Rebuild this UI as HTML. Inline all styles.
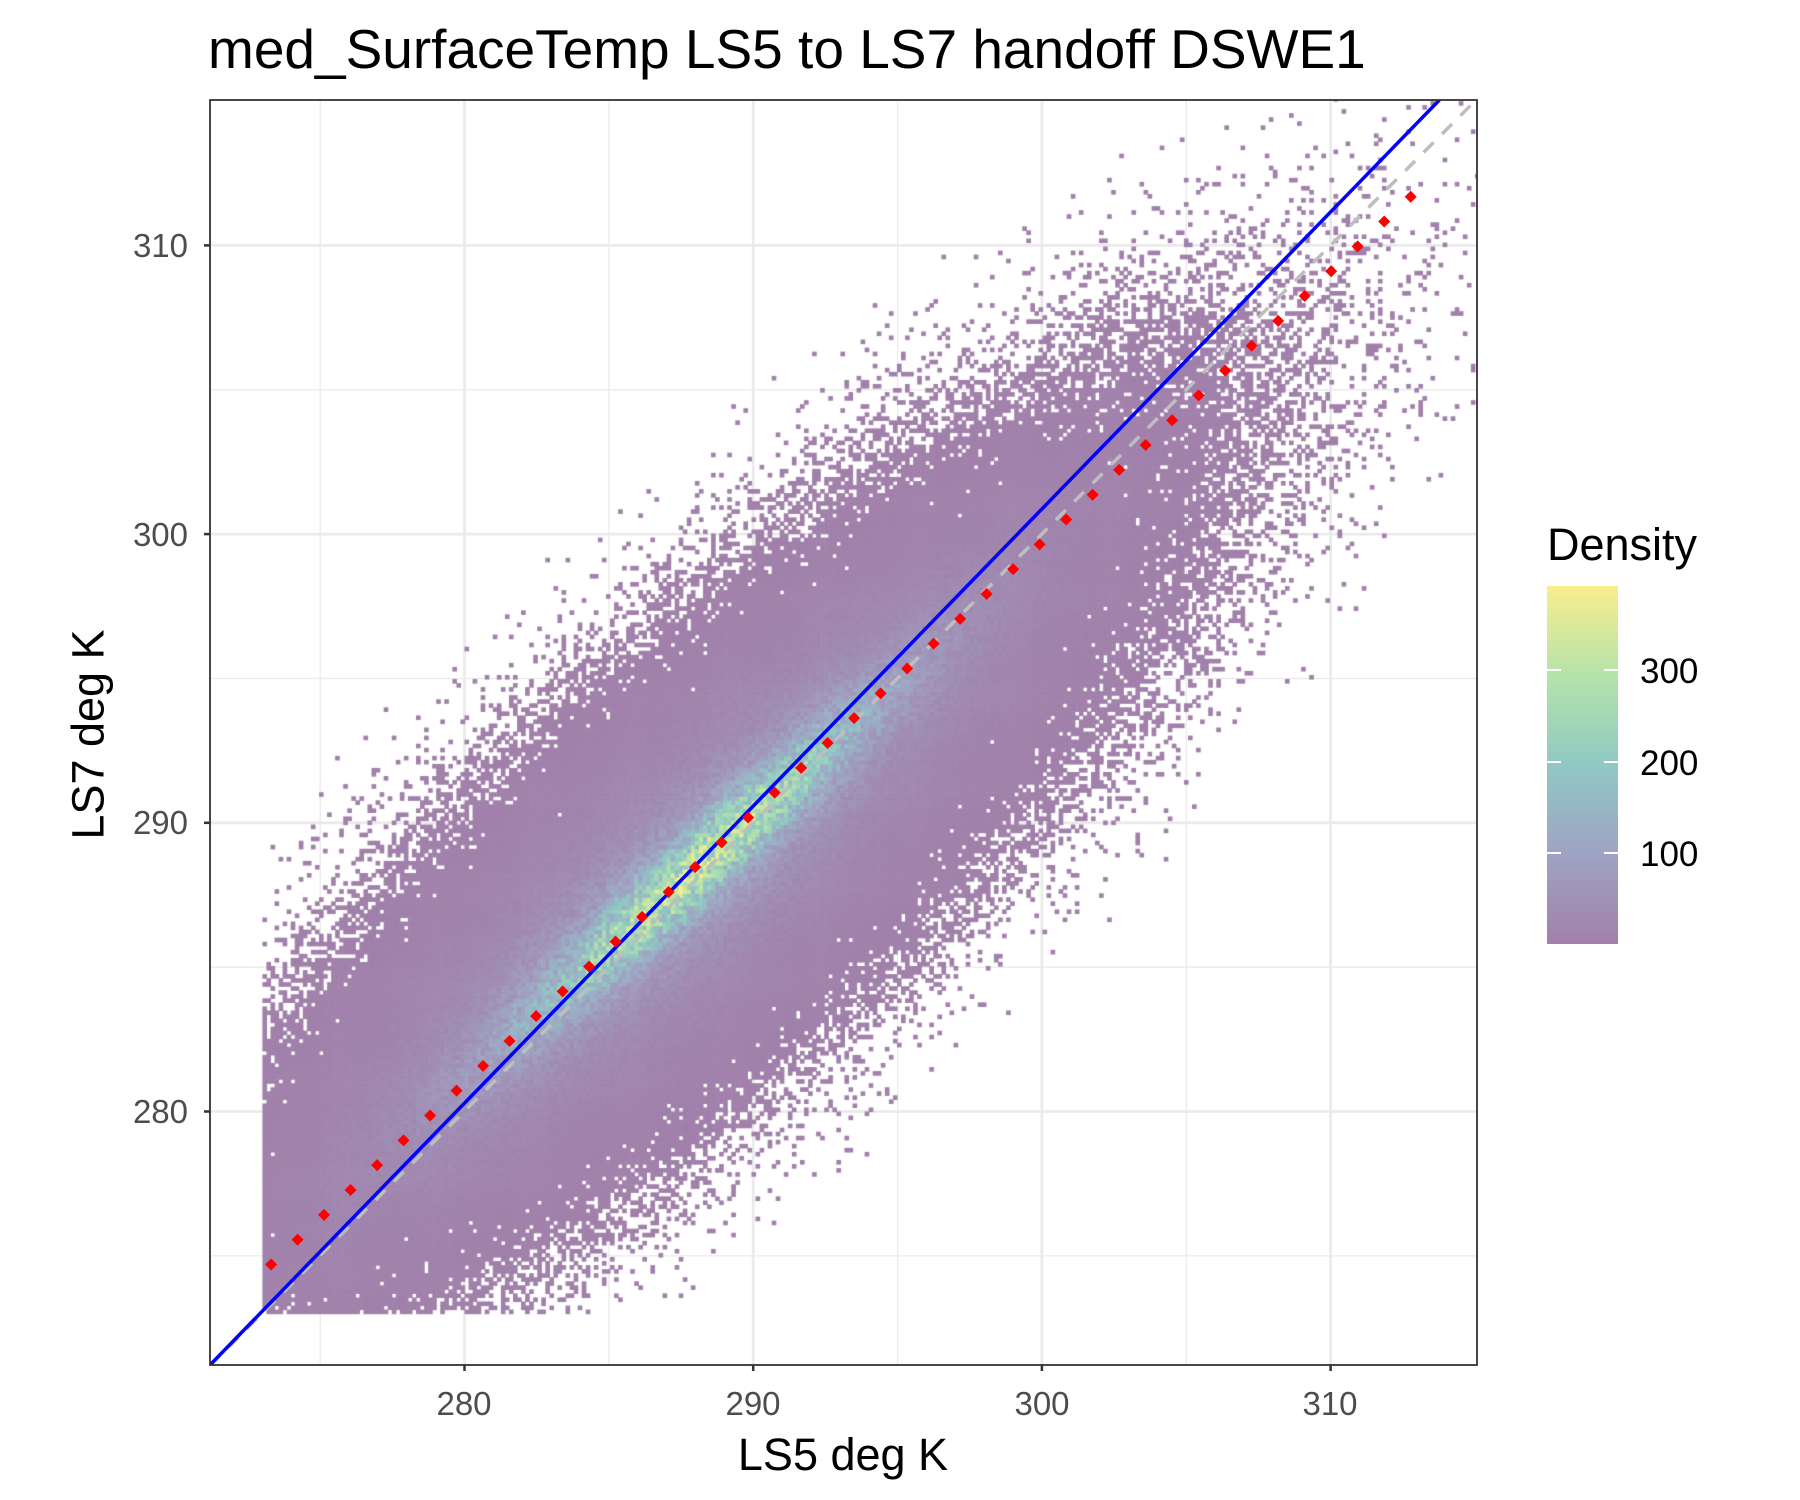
<!DOCTYPE html>
<html><head><meta charset="utf-8"><style>
body{margin:0;background:#fff;}
#w{position:relative;width:1800px;height:1500px;overflow:hidden;font-family:"Liberation Sans",sans-serif;}
svg,canvas{position:absolute;left:0;top:0;}
.t{position:absolute;white-space:nowrap;line-height:1;}
</style></head><body><div id="w">
<svg width="1800" height="1500">
<rect x="210" y="100" width="1267" height="1265" fill="#fff"/>
<g stroke="#ebebeb" stroke-width="1.3">
<line x1="320.2" y1="100" x2="320.2" y2="1365"/><line x1="608.9" y1="100" x2="608.9" y2="1365"/><line x1="897.6" y1="100" x2="897.6" y2="1365"/><line x1="1186.3" y1="100" x2="1186.3" y2="1365"/>
<line x1="210" y1="1255.9" x2="1477" y2="1255.9"/><line x1="210" y1="967.2" x2="1477" y2="967.2"/><line x1="210" y1="678.5" x2="1477" y2="678.5"/><line x1="210" y1="389.8" x2="1477" y2="389.8"/>
</g>
<g stroke="#ebebeb" stroke-width="2.8">
<line x1="464.5" y1="100" x2="464.5" y2="1365"/><line x1="753.2" y1="100" x2="753.2" y2="1365"/><line x1="1041.9" y1="100" x2="1041.9" y2="1365"/><line x1="1330.6" y1="100" x2="1330.6" y2="1365"/>
<line x1="210" y1="1111.5" x2="1477" y2="1111.5"/><line x1="210" y1="822.8" x2="1477" y2="822.8"/><line x1="210" y1="534.1" x2="1477" y2="534.1"/><line x1="210" y1="245.4" x2="1477" y2="245.4"/>
</g>
</svg>
<canvas id="c" width="1800" height="1500"></canvas>
<svg width="1800" height="1500" id="ov">
<defs><clipPath id="cp"><rect x="210" y="100" width="1267" height="1265"/></clipPath></defs>
<g clip-path="url(#cp)">
<line x1="210" y1="1365.5" x2="1477" y2="99" stroke="#bebebe" stroke-width="3.5" stroke-dasharray="14,12"/>
<line x1="210" y1="1365" x2="1439.4" y2="100" stroke="#0000ff" stroke-width="3.5"/>
<g id="pts" fill="#ff0000"></g>
</g>
<rect x="210" y="100" width="1267" height="1265" fill="none" stroke="#333" stroke-width="1.8"/>
<g stroke="#333" stroke-width="2.5">
<line x1="204" y1="1111.5" x2="210" y2="1111.5"/><line x1="204" y1="822.8" x2="210" y2="822.8"/><line x1="204" y1="534.1" x2="210" y2="534.1"/><line x1="204" y1="245.4" x2="210" y2="245.4"/>
<line x1="464.5" y1="1365" x2="464.5" y2="1371"/><line x1="753.2" y1="1365" x2="753.2" y2="1371"/><line x1="1041.9" y1="1365" x2="1041.9" y2="1371"/><line x1="1330.6" y1="1365" x2="1330.6" y2="1371"/>
</g>
<defs><linearGradient id="g" x1="0" y1="1" x2="0" y2="0">
<stop offset="0" stop-color="#a180aa"/><stop offset="0.25" stop-color="#9fa3c3"/><stop offset="0.5" stop-color="#90c9c4"/><stop offset="0.75" stop-color="#b5e3a9"/><stop offset="1" stop-color="#f8ee8c"/>
</linearGradient></defs>
<rect x="1547" y="586" width="71" height="358" fill="url(#g)"/>
<g stroke="#fff" stroke-width="2">
<line x1="1547" y1="670" x2="1561" y2="670"/><line x1="1604" y1="670" x2="1618" y2="670"/>
<line x1="1547" y1="762" x2="1561" y2="762"/><line x1="1604" y1="762" x2="1618" y2="762"/>
<line x1="1547" y1="853" x2="1561" y2="853"/><line x1="1604" y1="853" x2="1618" y2="853"/>
</g>
</svg>
<div class="t" style="left:208px;top:22px;font-size:55px;color:#000;">med_SurfaceTemp LS5 to LS7 handoff DSWE1</div>
<div class="t" style="right:1612px;top:1095px;font-size:33px;color:#4d4d4d;">280</div>
<div class="t" style="right:1612px;top:806px;font-size:33px;color:#4d4d4d;">290</div>
<div class="t" style="right:1612px;top:518px;font-size:33px;color:#4d4d4d;">300</div>
<div class="t" style="right:1612px;top:229px;font-size:33px;color:#4d4d4d;">310</div>
<div class="t" style="left:414px;top:1387px;width:100px;text-align:center;font-size:33px;color:#4d4d4d;">280</div>
<div class="t" style="left:703px;top:1387px;width:100px;text-align:center;font-size:33px;color:#4d4d4d;">290</div>
<div class="t" style="left:992px;top:1387px;width:100px;text-align:center;font-size:33px;color:#4d4d4d;">300</div>
<div class="t" style="left:1280px;top:1387px;width:100px;text-align:center;font-size:33px;color:#4d4d4d;">310</div>
<div class="t" style="left:643px;top:1432px;width:400px;text-align:center;font-size:45px;color:#000;">LS5 deg K</div>
<div class="t" style="left:-112px;top:712px;width:400px;text-align:center;font-size:45px;color:#000;transform:rotate(-90deg);">LS7 deg K</div>
<div class="t" style="left:1547px;top:522px;font-size:45px;color:#000;">Density</div>
<div class="t" style="left:1640px;top:654px;font-size:35px;color:#000;">300</div>
<div class="t" style="left:1640px;top:746px;font-size:35px;color:#000;">200</div>
<div class="t" style="left:1640px;top:837px;font-size:35px;color:#000;">100</div>
</div>
<script>
(function(){
var U=28.87;function X(v){return 464.5+(v-280)*U;}function Y(v){return 1111.5-(v-280)*U;}
var pts=document.getElementById('pts'),h='';
for(var i=0;i<44;i++){var x=273.3+0.918*i,y=274.7+0.937*(x-273.3),px=X(x),py=Y(y);
h+='<polygon points="'+px+','+(py-6)+' '+(px+6)+','+py+' '+px+','+(py+6)+' '+(px-6)+','+py+'"/>';}
pts.innerHTML=h;
var s=123456789;function r(){s^=s<<13;s^=s>>>17;s^=s<<5;return ((s>>>0)%1000000)/1000000;}
var stops=[[0,[161,128,170]],[0.25,[159,163,195]],[0.5,[144,201,196]],[0.75,[181,227,169]],[1,[248,238,140]]];
function col(t){if(t>1)t=1;if(t<0)t=0;for(var k=1;k<stops.length;k++){if(t<=stops[k][0]){var a=stops[k-1],b=stops[k],f=(t-a[0])/(b[0]-a[0]);
return 'rgb('+Math.round(a[1][0]+(b[1][0]-a[1][0])*f)+','+Math.round(a[1][1]+(b[1][1]-a[1][1])*f)+','+Math.round(a[1][2]+(b[1][2]-a[1][2])*f)+')';}}return 'rgb(248,238,140)';}
var c=document.getElementById('c').getContext('2d');
c.save();c.beginPath();c.rect(210,100,1267,1265);c.clip();
var bw=0.14;
for(var x=273.0;x<315;x+=bw){for(var y=273.0;y<315;y+=bw){
var xc=x+bw/2,yc=y+bw/2,sm=(xc+yc)/2,d=yc-xc-(0.3-0.07*(sm-290));
var core=200*Math.exp(-Math.pow(sm-288.3,2)/(2*14))*Math.exp(-d*d/(2*1.0));
var mid=60*Math.exp(-Math.pow(sm-288,2)/(2*30))*Math.exp(-d*d/(2*3.5));
var br=40*Math.exp(-Math.pow(sm-288,2)/(2*48))*Math.exp(-d*d/(2*16));
var C=core+mid+br;if(C<0.01)continue;
if(r()>1-Math.exp(-C*0.7))continue;
var v=C*(0.6+0.8*r());
c.fillStyle=col(v/393);
c.fillRect(X(x),Y(y+bw),bw*U+0.6,bw*U+0.6);}}
c.restore();
})();
</script>
</body></html>
